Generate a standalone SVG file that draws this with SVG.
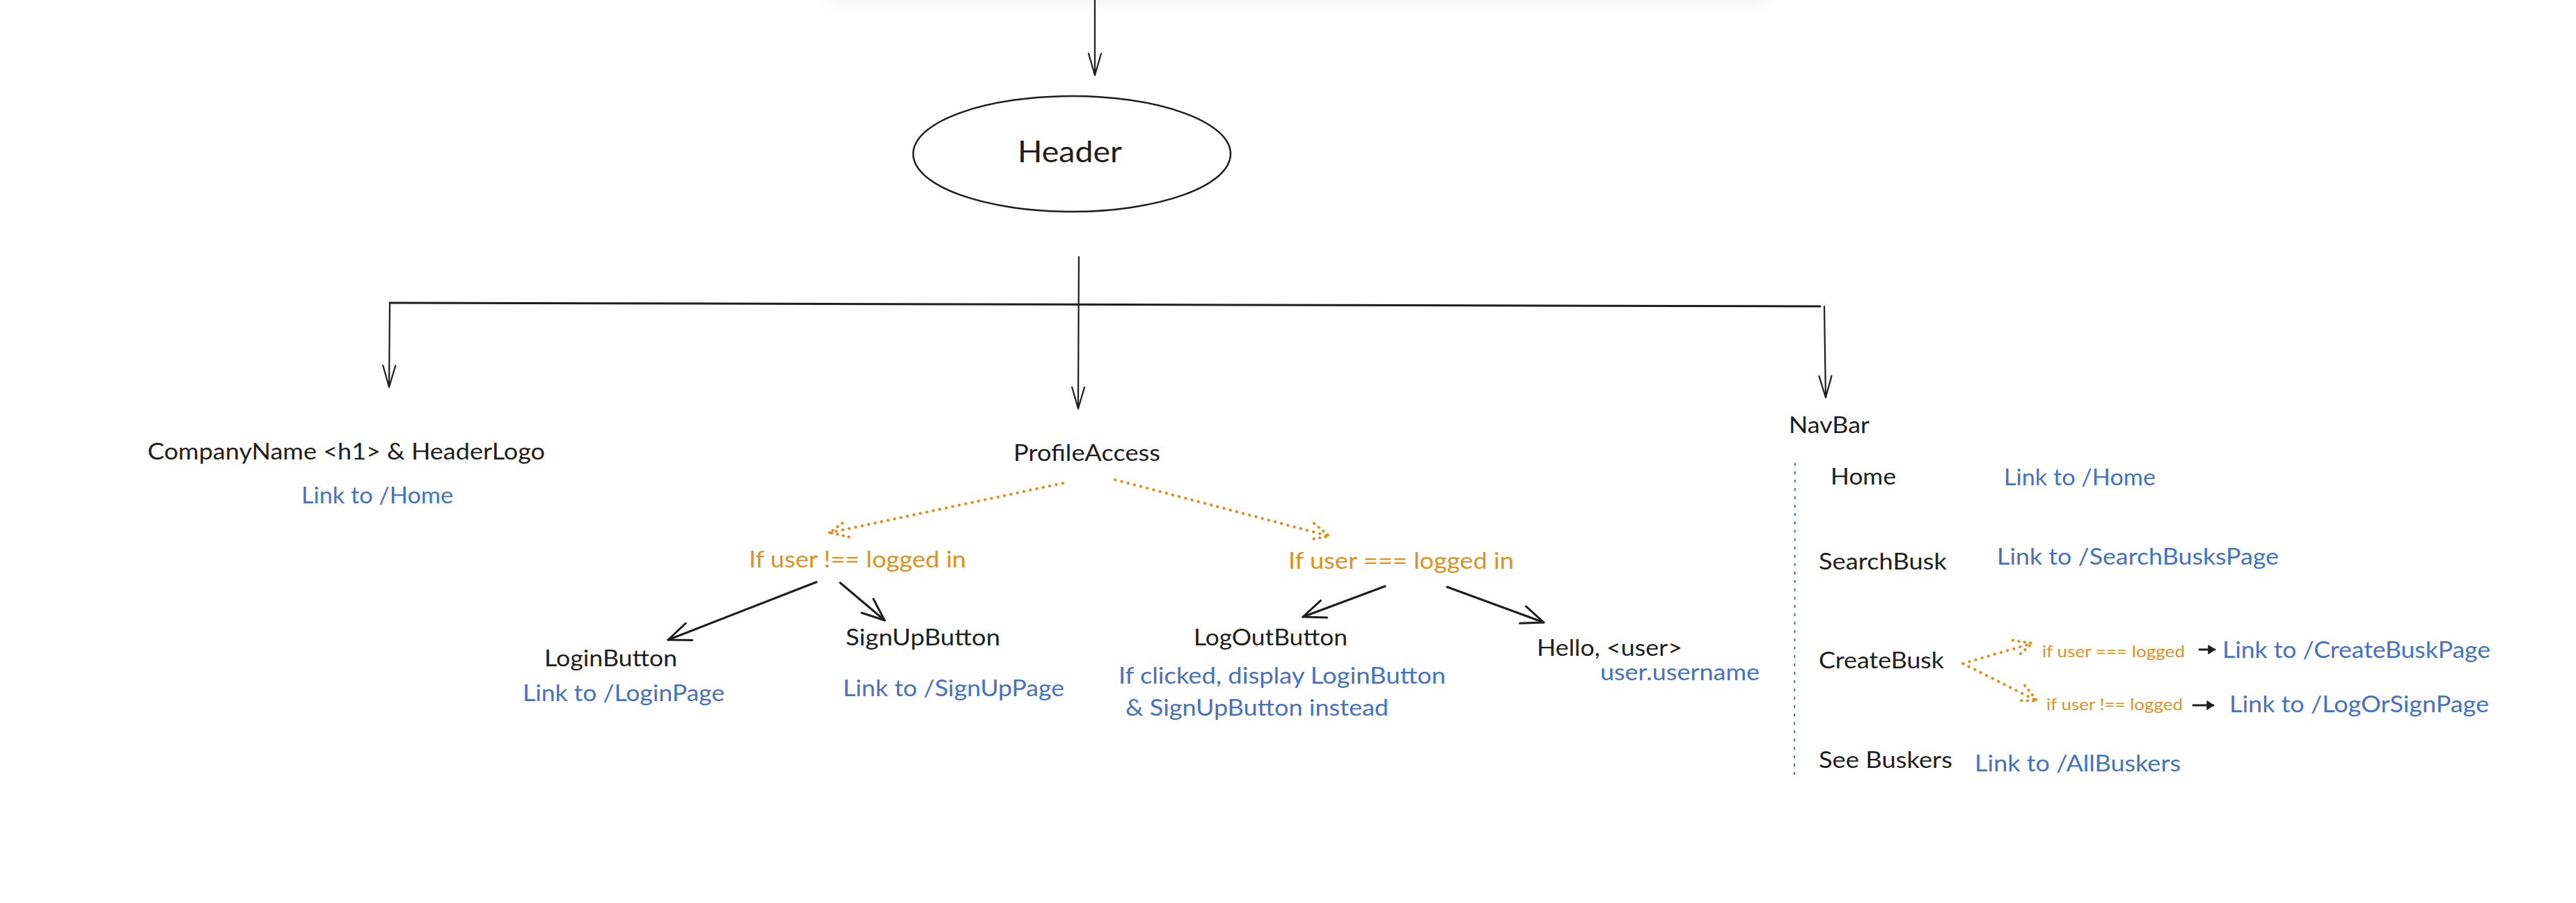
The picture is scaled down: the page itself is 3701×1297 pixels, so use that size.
<svg xmlns="http://www.w3.org/2000/svg" width="3701" height="1297" viewBox="0 0 3701 1297">
<style>
  text { font-family: Lato, "Open Sans", "Liberation Sans", sans-serif; }
  .t { font-size: 32px; fill: #1e1e1e; }
  .b { font-size: 32px; fill: #4472c4; }
  .o { font-size: 32px; fill: #e0911c; }
  .os { font-size: 24px; fill: #e0911c; }
  .ln { fill: none; stroke: #1e1e1e; stroke-width: 2.2; stroke-linecap: round; }
  .lnb { fill: none; stroke: #1e1e1e; stroke-width: 3; stroke-linecap: round; }
  .dot { fill: none; stroke: #e0911c; stroke-width: 4; stroke-linecap: round; stroke-dasharray: 0.5 9; }
  .bdot { fill: none; stroke: #4472c4; stroke-width: 2; stroke-dasharray: 4 8; }
</style>
<defs>
  <filter id="blur" x="-20%" y="-200%" width="140%" height="500%">
    <feGaussianBlur stdDeviation="14"/>
  </filter>
  <marker id="ah" markerUnits="userSpaceOnUse" markerWidth="60" markerHeight="60" refX="0" refY="0" orient="auto" overflow="visible">
    <path d="M-31,-9 L0,0 L-31,9" fill="none" stroke="#1e1e1e" stroke-width="2.2" stroke-linecap="round" stroke-linejoin="round"/>
  </marker>
  <marker id="ahw" markerUnits="userSpaceOnUse" markerWidth="60" markerHeight="60" refX="0" refY="0" orient="auto" overflow="visible">
    <path d="M-32,-13 L0,0 L-32,13" fill="none" stroke="#1e1e1e" stroke-width="3" stroke-linecap="round" stroke-linejoin="round"/>
  </marker>
  <marker id="ahd" markerUnits="userSpaceOnUse" markerWidth="60" markerHeight="60" refX="0" refY="0" orient="auto" overflow="visible">
    <path d="M-26,-12 L0,0 L-26,12" fill="none" stroke="#e0911c" stroke-width="4" stroke-linecap="round" stroke-dasharray="0.5 8"/>
  </marker>
  <marker id="ahs" markerUnits="userSpaceOnUse" markerWidth="30" markerHeight="30" refX="0" refY="0" orient="auto" overflow="visible">
    <path d="M-9,-6 L0,0 L-9,6 Z" fill="#1e1e1e" stroke="#1e1e1e" stroke-width="1.5" stroke-linejoin="round"/>
  </marker>
</defs>

<rect x="1190" y="-70" width="1350" height="70" fill="#000" opacity="0.07" filter="url(#blur)"/>

<g id="connectors">
  <path class="ln" d="M1573,0 L1573,108" marker-end="url(#ah)"/>
  <path class="ln" d="M1550,369 L1549,587" marker-end="url(#ah)"/>
  <path class="lnb" d="M560,435 L2615,440"/>
  <path class="ln" d="M560,435 L559,556" marker-end="url(#ah)"/>
  <path class="ln" d="M2621,440 L2623,571" marker-end="url(#ah)"/>
  <path class="dot" d="M1527,694 L1192,765" marker-end="url(#ahd)"/>
  <path class="dot" d="M1602,689 L1910,770" marker-end="url(#ahd)"/>
  <path class="lnb" d="M1173,836 L960,919" marker-end="url(#ahw)"/>
  <path class="lnb" d="M1207,837 L1271,891" marker-end="url(#ahw)"/>
  <path class="lnb" d="M1990,842 L1872,886" marker-end="url(#ahw)"/>
  <path class="lnb" d="M2079,843 L2218,894" marker-end="url(#ahw)"/>
  <path class="dot" d="M2820,953 L2920,924" marker-end="url(#ahd)"/>
  <path class="dot" d="M2820,953 L2927,1007" marker-end="url(#ahd)"/>
  <path class="lnb" d="M3160,933 L3182,933" marker-end="url(#ahs)"/>
  <path class="lnb" d="M3151,1013 L3180,1013" marker-end="url(#ahs)"/>
  <path class="bdot" d="M2579,665 L2578,1118"/>
</g>

<g id="header">
  <ellipse cx="1540" cy="221" rx="228" ry="83" fill="none" stroke="#1e1e1e" stroke-width="2.5"/>
  <text x="1462" y="233" font-size="42" fill="#1e1e1e" textLength="150" lengthAdjust="spacingAndGlyphs">Header</text>
</g>

<g id="company">
  <text class="t" x="212" y="660" textLength="571" lengthAdjust="spacingAndGlyphs">CompanyName &lt;h1&gt; &amp; HeaderLogo</text>
  <text class="b" x="433" y="723" textLength="218" lengthAdjust="spacingAndGlyphs">Link to /Home</text>
</g>

<g id="profile-access">
  <text class="t" x="1456" y="662" textLength="211" lengthAdjust="spacingAndGlyphs">ProfileAccess</text>
</g>

<g id="not-logged">
  <text class="o" x="1076" y="815" textLength="312" lengthAdjust="spacingAndGlyphs">If user !== logged in</text>
</g>

<g id="logged">
  <text class="o" x="1851" y="817" textLength="324" lengthAdjust="spacingAndGlyphs">If user === logged in</text>
</g>

<g id="login-button">
  <text class="t" x="782" y="957" textLength="191" lengthAdjust="spacingAndGlyphs">LoginButton</text>
  <text class="b" x="751" y="1007" textLength="290" lengthAdjust="spacingAndGlyphs">Link to /LoginPage</text>
</g>

<g id="signup-button">
  <text class="t" x="1215" y="927" textLength="222" lengthAdjust="spacingAndGlyphs">SignUpButton</text>
  <text class="b" x="1211" y="1000" textLength="318" lengthAdjust="spacingAndGlyphs">Link to /SignUpPage</text>
</g>

<g id="logout-button">
  <text class="t" x="1715" y="927" textLength="221" lengthAdjust="spacingAndGlyphs">LogOutButton</text>
  <text class="b" x="1607" y="982" textLength="470" lengthAdjust="spacingAndGlyphs">If clicked, display LoginButton</text>
  <text class="b" x="1617" y="1028" textLength="378" lengthAdjust="spacingAndGlyphs">&amp; SignUpButton instead</text>
</g>

<g id="hello-user">
  <text class="t" x="2208" y="942" textLength="209" lengthAdjust="spacingAndGlyphs">Hello, &lt;user&gt;</text>
  <text class="b" x="2299" y="977" textLength="229" lengthAdjust="spacingAndGlyphs">user.username</text>
</g>

<g id="navbar">
  <text class="t" x="2570" y="622" textLength="116" lengthAdjust="spacingAndGlyphs">NavBar</text>
</g>

<g id="nav-home">
  <text class="t" x="2630" y="696" textLength="94" lengthAdjust="spacingAndGlyphs">Home</text>
  <text class="b" x="2879" y="697" textLength="218" lengthAdjust="spacingAndGlyphs">Link to /Home</text>
</g>

<g id="nav-searchbusk">
  <text class="t" x="2613" y="818" textLength="184" lengthAdjust="spacingAndGlyphs">SearchBusk</text>
  <text class="b" x="2869" y="811" textLength="405" lengthAdjust="spacingAndGlyphs">Link to /SearchBusksPage</text>
</g>

<g id="nav-createbusk">
  <text class="t" x="2613" y="960" textLength="180" lengthAdjust="spacingAndGlyphs">CreateBusk</text>
  <text class="os" x="2934" y="944" textLength="205" lengthAdjust="spacingAndGlyphs">if user === logged</text>
  <text class="b" x="3193" y="945" textLength="385" lengthAdjust="spacingAndGlyphs">Link to /CreateBuskPage</text>
  <text class="os" x="2940" y="1020" textLength="196" lengthAdjust="spacingAndGlyphs">if user !== logged</text>
  <text class="b" x="3203" y="1023" textLength="373" lengthAdjust="spacingAndGlyphs">Link to /LogOrSignPage</text>
</g>

<g id="nav-seebuskers">
  <text class="t" x="2613" y="1103" textLength="192" lengthAdjust="spacingAndGlyphs">See Buskers</text>
  <text class="b" x="2837" y="1108" textLength="296" lengthAdjust="spacingAndGlyphs">Link to /AllBuskers</text>
</g>
</svg>
